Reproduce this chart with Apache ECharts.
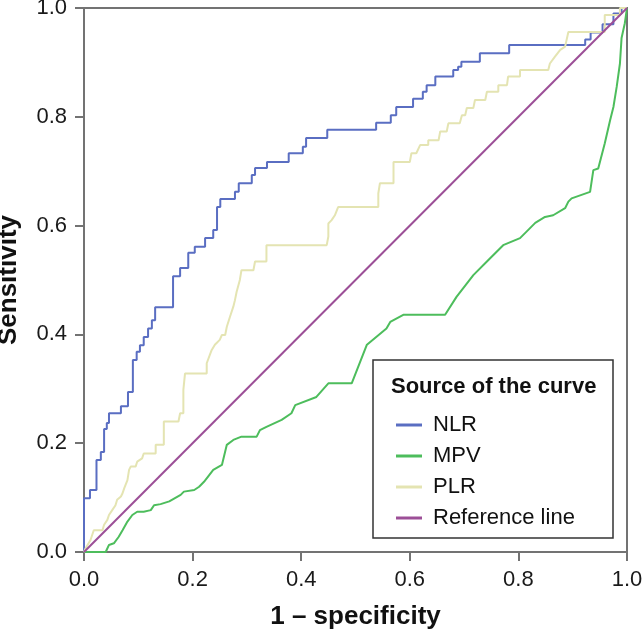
<!DOCTYPE html>
<html>
<head>
<meta charset="utf-8">
<script src="https://cdn.jsdelivr.net/npm/echarts@6/dist/echarts.min.js"></script>
<style>html,body{margin:0;padding:0;background:#fff}#c{width:643px;height:629px}</style>
</head>
<body>
<div id="c"></div>
<script>
const xTicks = [0, 0.2, 0.4, 0.6, 0.8, 1.0];
const yTicks = [0, 0.2, 0.4, 0.6, 0.8, 1.0];
const seriesNames = ['NLR', 'MPV', 'PLR', 'Reference line'];

const nlrPoints = [
[0,0],[0,0.099],[0.011,0.099],[0.011,0.114],[0.023,0.114],[0.023,0.169],[0.031,0.169],[0.031,0.184],
[0.037,0.184],[0.037,0.226],[0.042,0.226],[0.042,0.237],[0.046,0.237],[0.046,0.255],[0.068,0.255],
[0.068,0.268],[0.081,0.268],[0.081,0.294],[0.09,0.294],[0.09,0.353],[0.097,0.353],[0.097,0.368],
[0.103,0.368],[0.103,0.38],[0.11,0.38],[0.11,0.395],[0.118,0.395],[0.118,0.411],[0.125,0.411],
[0.125,0.426],[0.131,0.426],[0.131,0.45],[0.164,0.45],[0.164,0.507],[0.177,0.507],[0.177,0.522],
[0.192,0.522],[0.192,0.55],[0.204,0.55],[0.204,0.561],[0.223,0.561],[0.223,0.577],[0.238,0.577],
[0.238,0.592],[0.245,0.592],[0.245,0.634],[0.251,0.634],[0.251,0.649],[0.278,0.649],[0.278,0.662],
[0.285,0.662],[0.285,0.678],[0.309,0.678],[0.309,0.693],[0.315,0.693],[0.315,0.706],[0.337,0.706],
[0.337,0.717],[0.377,0.717],[0.377,0.733],[0.403,0.733],[0.403,0.745],[0.409,0.745],[0.409,0.761],
[0.448,0.761],[0.448,0.776],[0.538,0.776],[0.538,0.789],[0.565,0.789],[0.565,0.803],[0.575,0.803],
[0.575,0.818],[0.606,0.818],[0.606,0.833],[0.624,0.833],[0.624,0.846],[0.631,0.846],[0.631,0.858],
[0.647,0.858],[0.647,0.874],[0.68,0.874],[0.68,0.886],[0.689,0.886],[0.689,0.892],[0.695,0.892],
[0.695,0.901],[0.729,0.901],[0.729,0.917],[0.783,0.917],[0.783,0.932],[0.923,0.932],[0.923,0.942],
[0.933,0.942],[0.933,0.955],[0.955,0.955],[0.955,0.97],[0.975,0.97],[0.975,0.99],[0.99,0.99],
[0.99,1],[1,1]
];

const mpvPoints = [
[0,0],[0.04,0],[0.046,0.013],[0.055,0.016],[0.064,0.028],[0.071,0.04],[0.08,0.056],[0.089,0.068],
[0.098,0.074],[0.11,0.074],[0.123,0.077],[0.129,0.086],[0.141,0.088],[0.157,0.093],[0.178,0.105],
[0.184,0.111],[0.203,0.114],[0.212,0.12],[0.221,0.129],[0.238,0.151],[0.254,0.16],[0.263,0.197],
[0.275,0.206],[0.29,0.212],[0.318,0.212],[0.324,0.224],[0.336,0.23],[0.364,0.243],[0.382,0.255],
[0.389,0.27],[0.428,0.285],[0.45,0.31],[0.493,0.31],[0.521,0.381],[0.557,0.411],[0.564,0.423],
[0.588,0.436],[0.665,0.436],[0.686,0.469],[0.717,0.509],[0.742,0.534],[0.772,0.564],[0.803,0.577],
[0.815,0.589],[0.831,0.605],[0.849,0.616],[0.864,0.619],[0.886,0.632],[0.892,0.644],[0.898,0.65],
[0.932,0.662],[0.938,0.702],[0.947,0.705],[0.959,0.751],[0.969,0.794],[0.975,0.818],[0.981,0.855],
[0.987,0.898],[0.99,0.945],[0.996,0.972],[1,1]
];

const plrPoints = [
[0,0],[0.003,0.007],[0.012,0.022],[0.018,0.04],[0.034,0.04],[0.037,0.05],[0.043,0.059],[0.046,0.068],
[0.052,0.077],[0.058,0.086],[0.061,0.096],[0.068,0.102],[0.071,0.108],[0.074,0.117],[0.08,0.132],
[0.083,0.151],[0.086,0.157],[0.095,0.157],[0.098,0.166],[0.107,0.172],[0.11,0.181],[0.132,0.181],
[0.132,0.197],[0.147,0.197],[0.147,0.24],[0.174,0.24],[0.177,0.255],[0.183,0.255],[0.183,0.298],
[0.186,0.298],[0.186,0.328],[0.226,0.328],[0.226,0.347],[0.235,0.371],[0.241,0.381],[0.25,0.39],
[0.254,0.399],[0.26,0.399],[0.263,0.414],[0.269,0.433],[0.275,0.451],[0.278,0.463],[0.281,0.478],
[0.287,0.5],[0.29,0.518],[0.312,0.518],[0.315,0.534],[0.336,0.534],[0.336,0.564],[0.447,0.564],
[0.45,0.58],[0.45,0.604],[0.456,0.61],[0.462,0.619],[0.468,0.634],[0.542,0.634],[0.542,0.659],
[0.545,0.678],[0.57,0.678],[0.57,0.717],[0.6,0.717],[0.603,0.733],[0.612,0.733],[0.619,0.748],
[0.634,0.748],[0.634,0.757],[0.653,0.757],[0.656,0.773],[0.668,0.773],[0.671,0.788],[0.692,0.788],
[0.696,0.803],[0.702,0.803],[0.705,0.816],[0.717,0.816],[0.72,0.831],[0.739,0.831],[0.742,0.846],
[0.763,0.846],[0.763,0.858],[0.779,0.858],[0.781,0.874],[0.803,0.874],[0.803,0.886],[0.855,0.886],
[0.858,0.898],[0.867,0.91],[0.877,0.923],[0.886,0.929],[0.892,0.956],[0.959,0.956],[0.959,0.987],
[0.987,0.987],[0.987,1],[1,1]
];

const referencePoints = [[0,0],[1,1]];

const colors = ['#5a6ec2', '#4dbd5c', '#e4e4b2', '#9c4f97'];
const FONT = "'Liberation Sans', Arial, Helvetica, sans-serif";

const chart = echarts.init(document.getElementById('c'), null, {renderer: 'canvas'});
const allPoints = [nlrPoints, mpvPoints, plrPoints, referencePoints];

chart.setOption({
  animation: false,
  backgroundColor: '#fff',
  grid: {left: 84, right: 16, top: 8, bottom: 77, containLabel: false, outerBoundsMode: 'none',
    show: true, borderColor: '#737373', borderWidth: 2, backgroundColor: 'transparent'},
  xAxis: {
    type: 'value', min: 0, max: 1, interval: 0.2,
    name: '1 \u2013 specificity', nameLocation: 'middle', nameGap: 52,
    nameTextStyle: {fontFamily: FONT, fontSize: 26, fontWeight: 'bold', color: '#111'},
    axisLine: {show: true, lineStyle: {color: '#737373', width: 2}},
    axisTick: {show: true, inside: false, length: 9, lineStyle: {color: '#737373', width: 2}},
    axisLabel: {margin: 17, fontFamily: FONT, fontSize: 22, color: '#1a1a1a',
      formatter: v => xTicks.find(t => Math.abs(t - v) < 1e-9) !== undefined ? v.toFixed(1) : ''},
    splitLine: {show: false}
  },
  yAxis: {
    type: 'value', min: 0, max: 1, interval: 0.2,
    name: 'Sensitivity', nameLocation: 'middle', nameGap: 62, nameRotate: 90,
    nameTextStyle: {fontFamily: FONT, fontSize: 26, fontWeight: 'bold', color: '#111'},
    axisLine: {show: true, lineStyle: {color: '#737373', width: 2}},
    axisTick: {show: true, inside: false, length: 9, lineStyle: {color: '#737373', width: 2}},
    axisLabel: {margin: 17, fontFamily: FONT, fontSize: 22, color: '#1a1a1a',
      formatter: v => yTicks.find(t => Math.abs(t - v) < 1e-9) !== undefined ? v.toFixed(1) : ''},
    splitLine: {show: false}
  },
  legend: {
    show: true, orient: 'vertical', left: 391, top: 409,
    data: seriesNames, icon: 'rect', itemWidth: 26, itemHeight: 3, itemGap: 9,
    selectedMode: false,
    textStyle: {fontFamily: FONT, fontSize: 22, color: '#111', lineHeight: 22, padding: [0, 0, 0, 6]}
  },
  graphic: [
    {type: 'rect', z: 3, shape: {x: 373, y: 360, width: 240, height: 178},
     style: {fill: '#fff', stroke: '#333', lineWidth: 1.5}},
    {type: 'text', z: 4, x: 391, y: 387,
     style: {text: 'Source of the curve', fontFamily: FONT, fontSize: 22, fontWeight: 'bold', fill: '#111', verticalAlign: 'middle', textAlign: 'left'}}
  ],
  series: seriesNames.map((name, i) => ({
    name: name, type: 'line', data: allPoints[i], showSymbol: false, symbol: 'none',
    z: 2, color: colors[i],
    lineStyle: {color: colors[i], width: 2}
  }))
});
</script>
</body>
</html>
